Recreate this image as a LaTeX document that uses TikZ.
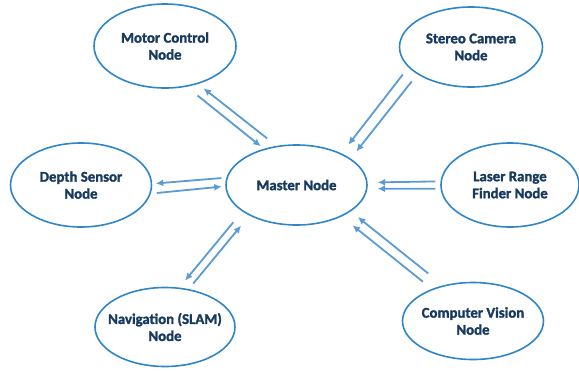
\documentclass[tikz,border=0pt]{standalone}
\usepackage{fontspec}
\setmainfont{Carlito}[BoldFeatures={FakeBold=1.6}]
\usepackage{tikz}
\usetikzlibrary{arrows.meta,shapes.geometric}
\definecolor{ovalblue}{HTML}{2E86C8}
\definecolor{arrowblue}{HTML}{5B9BD5}
\definecolor{textnavy}{HTML}{173A5E}
\tikzset{
  rosnode/.style={ellipse, draw=ovalblue, line width=1.6pt, inner xsep=-30pt, inner ysep=0pt,
    minimum width=141pt, minimum height=82pt, align=center, text=textnavy,
    font=\fontsize{14.8}{17}\selectfont\bfseries},
  msg/.style={draw=arrowblue, line width=1.8pt, -{Latex[length=7.5pt,width=7pt]}}
}

\begin{document}
\begin{tikzpicture}[x=1pt, y=-1pt]
\useasboundingbox (0,0) rectangle (579,370);
\node[rosnode, minimum width=142pt, minimum height=84pt] (motor) at (165,46) {Motor Control\\Node};
\node[rosnode, minimum width=143pt, minimum height=80pt] (stereo) at (471,47) {Stereo Camera\\Node};
\node[rosnode, minimum height=80pt] (master) at (296.5,185) {Master Node};
\node[rosnode, minimum height=84pt] (depth) at (81,185) {Depth Sensor\\Node};
\node[rosnode, minimum width=138pt, minimum height=84pt] (laser) at (510,185) {Laser Range\\Finder Node};
\node[rosnode, minimum width=140pt, minimum height=79pt] (nav) at (165,327) {Navigation (SLAM)\\Node};
\node[rosnode, minimum height=77pt] (cv) at (473,321) {Computer Vision\\Node};

\draw[msg, shorten <=12pt, shorten >=7pt] (master.117) -- (motor.-49);
\draw[msg, shorten <=14pt, shorten >=4pt] (motor.-62) -- (master.132);
\draw[msg, shorten <=9pt, shorten >=11pt] (stereo.198) -- (master.35);
\draw[msg, shorten <=9pt, shorten >=9pt] (stereo.207) -- (master.26);
\draw[msg, shorten <=5pt, shorten >=3.5pt] (master.174) -- (depth.1);
\draw[msg, shorten <=6pt, shorten >=3.5pt] (depth.-7) -- (master.181);
\draw[msg, shorten <=5pt, shorten >=10pt] (laser.177) -- (master.2);
\draw[msg, shorten <=5pt, shorten >=10pt] (laser.183) -- (master.-3);
\draw[msg, shorten <=14pt, shorten >=9pt] (master.206) -- (nav.70);
\draw[msg, shorten <=7pt, shorten >=13pt] (nav.58) -- (master.213);
\draw[msg, shorten <=19pt, shorten >=9pt] (cv.130) -- (master.-26);
\draw[msg, shorten <=11.5pt, shorten >=14pt] (cv.142) -- (master.-35);
\end{tikzpicture}
\end{document}
